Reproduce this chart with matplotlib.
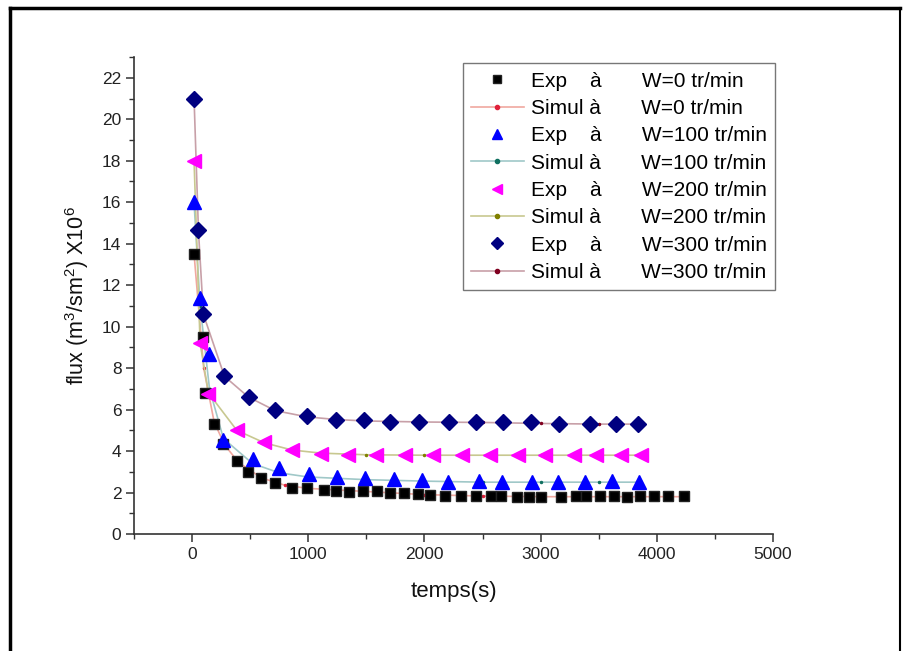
import matplotlib
matplotlib.use("Agg")
import matplotlib.pyplot as plt
from matplotlib.lines import Line2D
from matplotlib.ticker import MultipleLocator

plt.rcParams["font.family"] = ["Liberation Sans", "DejaVu Sans"]
plt.rcParams["mathtext.fontset"] = "custom"
plt.rcParams["mathtext.rm"] = "Liberation Sans"
plt.rcParams["mathtext.it"] = "Liberation Sans:italic"

# Experimental data (time in s, flux x1e6)
t_exp0 = [17, 97, 112, 190, 270, 390, 477, 595, 710, 860, 988, 1132, 1241, 1348, 1471, 1592, 1701,
          1822, 1946, 2046, 2181, 2316, 2445, 2569, 2661, 2793, 2900, 3000, 3172, 3302, 3388, 3511,
          3632, 3747, 3856, 3977, 4092, 4230]
y_exp0 = [13.5, 9.5, 6.8, 5.3, 4.35, 3.5, 3.0, 2.68, 2.47, 2.24, 2.23, 2.12, 2.08, 2.03, 2.08, 2.08,
          2.0, 1.96, 1.91, 1.88, 1.84, 1.84, 1.83, 1.83, 1.82, 1.78, 1.8, 1.8, 1.8, 1.82, 1.82, 1.82,
          1.82, 1.8, 1.82, 1.82, 1.82, 1.82]

t_exp100 = [17, 69, 149, 270, 523, 750, 1003, 1247, 1485, 1735, 1980, 2201, 2468, 2664, 2928, 3149,
            3379, 3618, 3848]
y_exp100 = [16.0, 11.4, 8.7, 4.55, 3.64, 3.19, 2.87, 2.76, 2.71, 2.63, 2.6, 2.52, 2.55, 2.5, 2.5,
            2.5, 2.52, 2.55, 2.5]

t_exp200 = [17, 69, 141, 385, 621, 860, 1112, 1342, 1586, 1830, 2075, 2325, 2563, 2808, 3034, 3287,
            3474, 3690, 3862]
y_exp200 = [18.0, 9.2, 6.76, 5.03, 4.44, 4.04, 3.88, 3.83, 3.8, 3.8, 3.8, 3.8, 3.8, 3.8, 3.8, 3.8,
            3.8, 3.8, 3.8]

t_exp300 = [17, 55, 97, 279, 486, 716, 988, 1241, 1483, 1707, 1951, 2210, 2440, 2675, 2920, 3158,
            3422, 3647, 3834]
y_exp300 = [21.0, 14.65, 10.6, 7.64, 6.63, 5.96, 5.67, 5.51, 5.51, 5.4, 5.4, 5.4, 5.4, 5.4, 5.4,
            5.29, 5.29, 5.29, 5.3]

# Simulation curves
t_sim0 = [17, 100, 190, 280, 400, 600, 800, 1000, 1500, 2000, 2500, 3000, 3500, 4230]
y_sim0 = [13.5, 8.0, 5.4, 4.3, 3.45, 2.7, 2.35, 2.2, 2.05, 1.9, 1.83, 1.8, 1.8, 1.8]

t_sim100 = [17, 69, 150, 270, 520, 750, 1000, 1500, 2000, 2500, 3000, 3500, 3848]
y_sim100 = [16.0, 11.0, 7.0, 4.6, 3.4, 2.95, 2.75, 2.62, 2.55, 2.5, 2.5, 2.5, 2.5]

t_sim200 = [17, 69, 141, 385, 621, 860, 1112, 1500, 2000, 3000, 3862]
y_sim200 = [18.0, 9.2, 6.8, 5.0, 4.4, 4.05, 3.9, 3.82, 3.8, 3.8, 3.8]

t_sim300 = [17, 55, 97, 279, 486, 716, 988, 1241, 1500, 2000, 2500, 3000, 3500, 3834]
y_sim300 = [21.0, 14.6, 10.6, 7.6, 6.6, 5.95, 5.65, 5.52, 5.45, 5.4, 5.38, 5.33, 5.3, 5.3]

speeds = ["0", "100", "200", "300"]

fig = plt.figure(figsize=(9.09, 6.51), dpi=100)
ax = fig.add_axes([0.1474, 0.1797, 0.703, 0.7327])

exp_style = [
    dict(marker="s", color="black", ms=7.5, mec="#222222"),
    dict(marker="^", color="#0000ff", ms=9.5, mec="#0000ff"),
    dict(marker="<", color="#ff00ff", ms=9.5, mec="#ff00ff"),
    dict(marker="D", color="#000080", ms=8, mec="#000080"),
]
sim_style = [
    dict(color="#f0a8a0", mfc="#e0203a", mec="#e0203a"),
    dict(color="#a0c8c8", mfc="#107060", mec="#107060"),
    dict(color="#c8c890", mfc="#808000", mec="#808000"),
    dict(color="#c8a0a8", mfc="#800020", mec="#800020"),
]
exp_t = [t_exp0, t_exp100, t_exp200, t_exp300]
exp_y = [y_exp0, y_exp100, y_exp200, y_exp300]
sim_t = [t_sim0, t_sim100, t_sim200, t_sim300]
sim_y = [y_sim0, y_sim100, y_sim200, y_sim300]

handles = []
labels = []
for i, w in enumerate(speeds):
    st = exp_style[i]
    he, = ax.plot(exp_t[i], exp_y[i], linestyle="none", marker=st["marker"], ms=st["ms"],
                  mfc=st["color"], mec=st["mec"], zorder=3)
    ss = sim_style[i]
    hs, = ax.plot(sim_t[i], sim_y[i], "-", color=ss["color"], lw=1.2, marker="o", ms=1.5,
                  mfc=ss["mfc"], mec=ss["mec"], zorder=2)
    handles += [he, hs]
    labels += ["Exp    à       W=%s tr/min" % w, "Simul à       W=%s tr/min" % w]

ax.set_xlim(-500, 5000)
ax.set_ylim(0, 23)
ax.xaxis.set_major_locator(MultipleLocator(1000))
ax.xaxis.set_minor_locator(MultipleLocator(500))
ax.yaxis.set_major_locator(MultipleLocator(2))
ax.yaxis.set_minor_locator(MultipleLocator(1))
ax.set_xticks([0, 1000, 2000, 3000, 4000, 5000])

for s in ["top", "right"]:
    ax.spines[s].set_visible(False)
for s in ["left", "bottom"]:
    ax.spines[s].set_color("#333333")
    ax.spines[s].set_linewidth(1.2)

ax.tick_params(which="major", direction="out", length=6, width=1.1, color="#333333",
               labelsize=12.5, labelcolor="#222222", pad=3)
ax.tick_params(which="minor", direction="out", length=3.5, width=1.0, color="#333333")

ax.set_xlabel("temps(s)", fontsize=16, labelpad=14, color="#111111")
ax.set_ylabel("flux (m$^3$/sm$^2$) X10$^6$", fontsize=15.5, labelpad=8, color="#111111")

leg = ax.legend(handles, labels, loc="upper left", bbox_to_anchor=(0.515, 0.987),
                fontsize=15, frameon=True, fancybox=False, edgecolor="#555555",
                handlelength=2.5, handletextpad=0.35, labelspacing=0.4, borderpad=0.4,
                borderaxespad=0, markerscale=0.8)
leg.get_frame().set_linewidth(1.0)
# the small dot of simulation handles stays visible
for h in leg.legend_handles[1::2]:
    h.set_markersize(3)

# outer frame of the picture
fig.add_artist(Line2D([0.011, 0.011], [0.0, 0.988], transform=fig.transFigure, color="black", lw=2.5))
fig.add_artist(Line2D([0.011, 0.990], [0.988, 0.988], transform=fig.transFigure, color="black", lw=2.5))
fig.add_artist(Line2D([0.990, 0.990], [0.0, 0.988], transform=fig.transFigure, color="black", lw=1.5))

fig.savefig("out.png", dpi=100)
